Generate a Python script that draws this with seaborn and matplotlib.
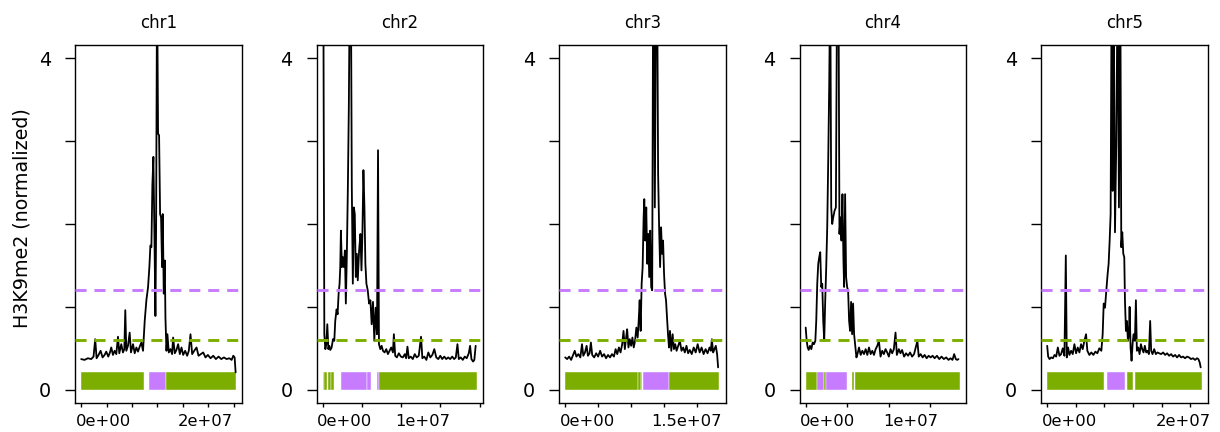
import numpy as np
import pandas as pd
import matplotlib
matplotlib.use("Agg")
import matplotlib.pyplot as plt
import seaborn as sns
from matplotlib.transforms import ScaledTranslation

# ---------------------------------------------------------------- data
chroms = ["chr1", "chr2", "chr3", "chr4", "chr5"]
chrom_len_mb = [30.43, 19.70, 23.46, 18.59, 26.98]

# H3K9me2 signal along each chromosome (position in Mb, normalized signal)
chr1_pos = [0.00, 0.66, 1.32, 1.97, 2.43, 2.76, 3.03, 3.42, 3.82, 4.21, 4.61, 4.93, 5.33, 5.66, 5.92,
            6.25, 6.58, 6.91, 7.24, 7.50, 7.89, 8.22, 8.49, 8.68, 8.88, 9.21, 9.54, 9.80, 10.20, 10.53,
            10.86, 11.18, 11.51, 11.84, 12.17, 12.50, 12.83, 13.16, 13.42, 13.62, 13.82, 14.01, 14.21,
            14.41, 14.61, 14.74, 14.93, 15.13, 15.33, 15.53, 15.72, 15.92, 16.05, 16.25, 16.45, 16.58,
            16.78, 16.97, 17.24, 17.57, 17.89, 18.09, 18.42, 18.75, 19.08, 19.41, 19.74, 20.07, 20.46,
            20.86, 21.18, 21.51, 21.84, 22.24, 22.70, 23.09, 23.55, 24.01, 24.47, 24.93, 25.46, 25.99,
            26.51, 27.04, 27.57, 28.09, 28.62, 29.14, 29.61, 29.93, 30.20, 30.39]
chr1_val = [0.37, 0.36, 0.38, 0.37, 0.40, 0.61, 0.38, 0.42, 0.47, 0.39, 0.42, 0.46, 0.40, 0.45, 0.51,
            0.42, 0.47, 0.43, 0.64, 0.44, 0.55, 0.45, 0.49, 0.96, 0.47, 0.53, 0.69, 0.45, 0.55, 0.44,
            0.51, 0.46, 0.52, 0.57, 0.47, 0.83, 1.08, 1.24, 1.48, 1.74, 1.72, 2.47, 2.81,
            1.88, 0.89, 1.88, 5.00, 3.09, 3.07, 2.12, 2.08, 1.48, 2.12, 1.16, 1.56, 0.87,
            0.47, 0.67, 0.45, 0.49, 0.43, 0.63, 0.44, 0.48, 0.55, 0.43, 0.51, 0.42, 0.47,
            0.41, 0.47, 0.67, 0.43, 0.47, 0.51, 0.41, 0.43, 0.45, 0.39, 0.42, 0.38, 0.41,
            0.37, 0.40, 0.37, 0.39, 0.37, 0.38, 0.36, 0.41, 0.39, 0.21]

chr2_pos = [0.08, 0.21, 0.34, 0.46, 0.59, 0.72, 0.84, 0.97, 1.14, 1.31, 1.48, 1.60, 1.77, 1.90, 2.03,
            2.15, 2.24, 2.32, 2.45, 2.57, 2.70, 2.83, 2.95, 3.08, 3.21, 3.33, 3.46, 3.59, 3.71, 3.84,
            3.97, 4.09, 4.22, 4.35, 4.47, 4.64, 4.81, 4.94, 5.06, 5.19, 5.32, 5.44, 5.57, 5.74, 5.91,
            6.08, 6.24, 6.41, 6.58, 6.75, 6.92, 7.05, 7.17, 7.34, 7.51, 7.68, 7.89, 8.10, 8.31, 8.52,
            8.73, 8.95, 9.07, 9.24, 9.45, 9.70, 9.96, 10.21, 10.46, 10.63, 10.80, 10.97, 11.22, 11.48,
            11.73, 11.98, 12.24, 12.53, 12.70, 12.95, 13.21, 13.46, 13.71, 13.97, 14.22, 14.47, 14.73,
            14.98, 15.23, 15.49, 15.74, 15.99, 16.24, 16.50, 16.75, 16.96, 17.17, 17.34, 17.59, 17.85,
            18.10, 18.35, 18.61, 18.78, 18.95, 19.16, 19.32, 19.49]
chr2_val = [5.00, 0.67, 0.49, 0.55, 0.79, 0.49, 0.53, 0.48, 0.51, 0.61, 0.59, 0.83, 0.97, 0.91, 1.16,
            1.28, 1.48, 1.92, 1.48, 1.60, 1.48, 1.68, 1.04, 1.64, 2.45, 3.41, 5.00, 5.00, 2.45, 1.28,
            2.20, 2.12, 1.36, 1.64, 1.32, 1.68, 1.88, 1.44, 1.88, 2.65, 2.20, 1.52, 1.28, 1.20, 1.04,
            1.08, 0.79, 1.06, 0.59, 0.99, 0.67, 2.89, 0.55, 0.49, 0.53, 0.47, 0.45, 0.49, 0.43, 0.47,
            0.51, 0.45, 0.67, 0.41, 0.39, 0.44, 0.40, 0.39, 0.43, 0.38, 0.52, 0.38, 0.40, 0.37,
            0.43, 0.39, 0.41, 0.64, 0.38, 0.40, 0.36, 0.45, 0.39, 0.42, 0.49, 0.39, 0.37,
            0.41, 0.37, 0.40, 0.37, 0.39, 0.37, 0.40, 0.37, 0.39, 0.55, 0.37, 0.39, 0.36,
            0.40, 0.38, 0.44, 0.53, 0.37, 0.34, 0.36, 0.53]

chr3_pos = [0.00, 0.30, 0.60, 0.90, 1.20, 1.45, 1.70, 2.00, 2.30, 2.55, 2.75, 3.00, 3.25, 3.45, 3.70,
            3.90, 4.10, 4.40, 4.70, 5.00, 5.30, 5.60, 5.90, 6.20, 6.50, 6.80, 7.10, 7.40, 7.65, 7.90,
            8.15, 8.40, 8.65, 8.85, 9.05, 9.25, 9.40, 9.60, 9.80, 10.00, 10.20, 10.40, 10.60, 10.80,
            11.00, 11.15, 11.30, 11.45, 11.60, 11.75, 11.90, 12.00, 12.15, 12.30, 12.45, 12.60, 12.75,
            12.90, 13.05, 13.20, 13.35, 13.45, 13.60, 13.80, 13.95, 14.10, 14.25, 14.40, 14.55, 14.70,
            14.85, 15.00, 15.15, 15.30, 15.45, 15.60, 15.75, 15.90, 16.10, 16.30, 16.50, 16.70, 16.90,
            17.15, 17.40, 17.65, 17.90, 18.15, 18.40, 18.65, 18.90, 19.20, 19.50, 19.80, 20.10, 20.40,
            20.70, 21.00, 21.30, 21.60, 21.90, 22.10, 22.25, 22.45, 22.65, 22.85, 23.05, 23.20]
chr3_val = [0.39, 0.37, 0.40, 0.36, 0.42, 0.47, 0.40, 0.43, 0.39, 0.55, 0.41, 0.45, 0.53, 0.41, 0.44,
            0.57, 0.42, 0.39, 0.44, 0.40, 0.47, 0.40, 0.43, 0.38, 0.42, 0.39, 0.43, 0.40, 0.49, 0.43,
            0.51, 0.45, 0.55, 0.71, 0.49, 0.63, 0.73, 0.51, 0.61, 0.53, 0.63, 0.51, 0.59, 0.75,
            0.63, 0.83, 1.08, 0.71, 1.28, 1.48, 2.08, 2.30, 1.80, 2.20, 1.52, 1.88, 1.36,
            1.92, 1.24, 1.20, 5.00, 5.00, 2.20, 5.00, 5.00, 2.60, 1.96, 1.48, 1.96, 1.64,
            1.80, 1.40, 1.16, 1.08, 0.87, 0.67, 0.51, 0.71, 0.47, 0.67, 0.49, 0.55, 0.47,
            0.53, 0.59, 0.47, 0.51, 0.45, 0.53, 0.44, 0.48, 0.43, 0.51, 0.45, 0.55, 0.45,
            0.51, 0.43, 0.49, 0.44, 0.51, 0.47, 0.61, 0.45, 0.49, 0.53, 0.43, 0.27]

chr4_pos = [0.00, 0.12, 0.24, 0.36, 0.52, 0.68, 0.84, 1.00, 1.16, 1.27, 1.39, 1.51, 1.63, 1.75, 1.87,
            1.99, 2.11, 2.23, 2.35, 2.47, 2.59, 2.71, 2.83, 2.95, 3.07, 3.19, 3.31, 3.47, 3.63, 3.78,
            3.94, 4.06, 4.18, 4.30, 4.42, 4.54, 4.62, 4.74, 4.86, 4.98, 5.10, 5.22, 5.34, 5.46, 5.58,
            5.70, 5.82, 5.94, 6.10, 6.25, 6.41, 6.61, 6.81, 7.01, 7.21, 7.41, 7.61, 7.81, 8.01, 8.21,
            8.41, 8.61, 8.80, 9.00, 9.20, 9.40, 9.60, 9.80, 10.00, 10.20, 10.40, 10.60, 10.80, 10.96,
            11.20, 11.39, 11.59, 11.83, 12.07, 12.31, 12.55, 12.79, 13.03, 13.23, 13.43, 13.59, 13.82,
            14.06, 14.30, 14.54, 14.78, 15.02, 15.26, 15.50, 15.78, 16.06, 16.33, 16.61, 16.89, 17.17,
            17.41, 17.65, 17.85, 18.05, 18.21, 18.37]
chr4_val = [0.75, 0.59, 0.51, 0.48, 0.53, 0.49, 0.57, 0.55, 0.59, 0.83, 1.28, 1.52, 1.60, 1.66, 1.24,
            1.28, 0.83, 0.59, 1.08, 1.48, 1.96, 2.77, 3.69, 5.00, 2.20, 2.00, 2.08, 2.16, 2.20, 5.00,
            5.00, 1.88, 2.08, 1.80, 2.36, 1.56, 1.24, 2.36, 1.36, 1.24, 1.20, 0.83, 0.71, 1.06, 0.67,
            1.04, 0.67, 0.55, 0.39, 0.44, 0.51, 0.42, 0.47, 0.43, 0.49, 0.42, 0.51, 0.43, 0.47, 0.42,
            0.49, 0.53, 0.59, 0.40, 0.47, 0.43, 0.49, 0.45, 0.40, 0.49, 0.44, 0.49, 0.69, 0.42,
            0.49, 0.44, 0.48, 0.40, 0.44, 0.41, 0.45, 0.40, 0.43, 0.51, 0.59, 0.40, 0.43,
            0.39, 0.42, 0.38, 0.41, 0.39, 0.41, 0.38, 0.41, 0.37, 0.40, 0.37, 0.39, 0.36,
            0.38, 0.36, 0.43, 0.37, 0.36, 0.37]

chr5_pos = [0.00, 0.17, 0.41, 0.70, 0.99, 1.28, 1.57, 1.86, 2.14, 2.43, 2.72, 3.01, 3.25, 3.42, 3.65,
            3.88, 4.17, 4.46, 4.75, 5.04, 5.33, 5.62, 5.91, 6.20, 6.49, 6.78, 7.01, 7.36, 7.71, 8.06,
            8.41, 8.75, 9.10, 9.45, 9.68, 9.86, 10.09, 10.32, 10.55, 10.72, 10.90, 11.07, 11.25, 11.42,
            11.59, 11.83, 12.06, 12.29, 12.52, 12.75, 12.93, 13.10, 13.28, 13.45, 13.57, 13.74, 13.91,
            14.09, 14.26, 14.38, 14.55, 14.72, 14.90, 15.07, 15.30, 15.48, 15.65, 15.88, 16.12, 16.35,
            16.58, 16.81, 17.04, 17.28, 17.51, 17.74, 17.97, 18.14, 18.38, 18.67, 18.96, 19.25, 19.54,
            19.88, 20.23, 20.58, 20.93, 21.28, 21.62, 21.97, 22.32, 22.67, 23.01, 23.36, 23.71, 24.06,
            24.41, 24.75, 25.10, 25.45, 25.80, 26.14, 26.38, 26.61, 26.78]
chr5_val = [0.53, 0.40, 0.37, 0.39, 0.38, 0.42, 0.40, 0.51, 0.41, 0.43, 0.50, 0.41, 1.62, 0.39, 0.51,
            0.42, 0.47, 0.43, 0.55, 0.44, 0.51, 0.45, 0.55, 0.49, 0.59, 0.67, 0.47, 0.42, 0.45, 0.42,
            0.46, 0.44, 0.50, 0.47, 0.67, 1.04, 0.99, 1.20, 1.40, 1.52, 1.80, 2.12, 5.00, 2.40,
            5.00, 1.90, 3.00, 5.00, 2.20, 5.00, 1.72, 1.90, 1.64, 1.60, 1.08, 0.71, 0.83,
            0.59, 0.67, 1.00, 0.51, 0.35, 0.55, 0.67, 0.59, 1.08, 0.47, 0.51, 0.43, 0.55,
            0.49, 0.45, 0.53, 0.45, 0.47, 0.43, 0.83, 0.47, 0.43, 0.49, 0.43, 0.45, 0.44,
            0.43, 0.45, 0.42, 0.44, 0.41, 0.43, 0.40, 0.42, 0.39, 0.42, 0.39, 0.40, 0.38,
            0.40, 0.39, 0.37, 0.38, 0.36, 0.38, 0.37, 0.33, 0.27]

# chromatin-state segments drawn as a strip under each trace (start Mb, end Mb, state)
chr1_seg_start = [0.0, 13.4, 16.6]
chr1_seg_end = [12.4, 16.6, 30.4]
chr1_seg_state = ["low", "high", "low"]
chr2_seg_start = [0.0, 0.17, 0.62, 1.02, 2.3, 5.62, 6.9, 7.2]
chr2_seg_end = [0.17, 0.60, 1.00, 1.50, 5.6, 6.10, 7.2, 19.7]
chr2_seg_state = ["high", "low", "low", "low", "high", "high", "high", "low"]
chr3_seg_start = [0.0, 11.1, 11.55, 11.8, 15.8]
chr3_seg_end = [11.0, 11.5, 11.70, 15.8, 23.4]
chr3_seg_state = ["low", "low", "high", "high", "low"]
chr4_seg_start = [0.0, 1.4, 2.2, 2.5, 5.6, 5.9]
chr4_seg_end = [1.4, 2.2, 2.4, 5.0, 5.8, 18.5]
chr4_seg_state = ["low", "high", "low", "high", "low", "low"]
chr5_seg_start = [0.0, 10.35, 13.9, 15.3]
chr5_seg_end = [9.9, 13.50, 15.05, 27.0]
chr5_seg_state = ["low", "high", "low", "low"]

# thresholds drawn as dashed reference lines
low_cut = 0.6
high_cut = 1.2

# x tick values (bp) that carry a label on each panel
labeled_ticks = [[0, 2e7], [0, 1e7], [0, 1.5e7], [0, 1e7], [0, 2e7]]

# ---------------------------------------------------------------- style
GREEN = "#7CAE00"
PURPLE = "#C77CFF"
state_colors = {"low": GREEN, "high": PURPLE}

sns.set_style("white")
plt.rcParams["font.family"] = ["DejaVu Sans"]
plt.rcParams["text.color"] = "black"
plt.rcParams["axes.labelcolor"] = "black"
plt.rcParams["xtick.color"] = "black"
plt.rcParams["ytick.color"] = "black"

positions = [chr1_pos, chr2_pos, chr3_pos, chr4_pos, chr5_pos]
values = [chr1_val, chr2_val, chr3_val, chr4_val, chr5_val]
segments = [
    (chr1_seg_start, chr1_seg_end, chr1_seg_state),
    (chr2_seg_start, chr2_seg_end, chr2_seg_state),
    (chr3_seg_start, chr3_seg_end, chr3_seg_state),
    (chr4_seg_start, chr4_seg_end, chr4_seg_state),
    (chr5_seg_start, chr5_seg_end, chr5_seg_state),
]

signal = pd.concat(
    [pd.DataFrame({"chrom": c, "pos": np.asarray(p) * 1e6, "signal": v})
     for c, p, v in zip(chroms, positions, values)],
    ignore_index=True,
)


def sci_label(v):
    if v == 0:
        return "0e+00"
    return "%g" % v


W, H = 1220, 432
fig = plt.figure(figsize=(W / 100, H / 100), dpi=100)
lefts_px = [75, 316.5, 559, 799.5, 1041]
panel_w, panel_bottom, panel_h = 167, 29, 358
label_shift = ScaledTranslation(22 / 100, 0, fig.dpi_scale_trans)

for i, chrom in enumerate(chroms):
    ax = fig.add_axes([lefts_px[i] / W, panel_bottom / H, panel_w / W, panel_h / H])
    L = chrom_len_mb[i] * 1e6

    # state strip
    st, en, sta = segments[i]
    st = np.asarray(st) * 1e6
    en = np.asarray(en) * 1e6
    ax.bar(st, 0.21, width=en - st, bottom=0, align="edge",
           color=[state_colors[s] for s in sta], edgecolor="white", linewidth=0.3, zorder=1)

    # signal trace
    sns.lineplot(data=signal[signal["chrom"] == chrom], x="pos", y="signal", ax=ax,
                 color="black", linewidth=1.3, estimator=None, sort=False, zorder=2)

    # thresholds
    ax.axhline(high_cut, color=PURPLE, linewidth=2.1, linestyle=(0, (3.8, 2.7)), zorder=3)
    ax.axhline(low_cut, color=GREEN, linewidth=2.1, linestyle=(0, (3.8, 2.7)), zorder=3)

    ax.set_xlim(-0.04 * L, 1.04 * L)
    ax.set_ylim(-0.16, 4.16)
    ax.set_xlabel("")
    ax.set_ylabel("")
    ax.set_title(chrom, fontsize=12, pad=12, color="black")

    for sp in ax.spines.values():
        sp.set_visible(True)
        sp.set_color("black")
        sp.set_linewidth(1.0)

    ax.set_yticks([0, 1, 2, 3, 4])
    ax.set_yticklabels(["0", "", "", "", "4"])
    ax.tick_params(axis="y", direction="out", length=7.2, width=1.0, pad=10,
                   labelsize=13.8, left=True, colors="black")

    xt = np.arange(0, 1.04 * L, 5e6)
    ax.set_xticks(xt)
    ax.set_xticklabels([sci_label(v) if v in labeled_ticks[i] else "" for v in xt])
    ax.tick_params(axis="x", direction="out", length=3.2, width=1.0, pad=5,
                   labelsize=11.8, bottom=True, colors="black")
    for lab in ax.get_xticklabels():
        lab.set_transform(lab.get_transform() + label_shift)

fig.text(22 / W, 1 - 218 / H, "H3K9me2 (normalized)", rotation=90,
         ha="center", va="center", fontsize=13.7, color="black")

fig.savefig("out.png", dpi=100, facecolor="white")
